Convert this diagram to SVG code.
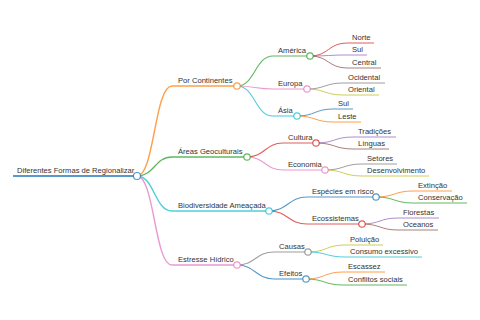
<svg xmlns="http://www.w3.org/2000/svg" width="480" height="320" viewBox="0 0 480 320">
<style>
text{font-family:"Liberation Sans",Arial,sans-serif;font-size:7.6px;fill:#333}
path,line,circle{fill:none}
.l0{stroke-width:2}
.l1{stroke-width:1.4}
.l2{stroke-width:1.1}
.l3{stroke-width:1}
circle{fill:#fff;stroke-width:1.2}
.blue{stroke:#1f77b4}
.orange{stroke:#ff7f0e}
.green{stroke:#2ca02c}
.red{stroke:#d62728}
.purple{stroke:#9467bd}
.brown{stroke:#8c564b}
.pink{stroke:#e377c2}
.gray{stroke:#7f7f7f}
.olive{stroke:#bcbd22}
.cyan{stroke:#17becf}
.sk{stroke-opacity:0.75}
</style>
<rect width="480" height="320" fill="#fff"/>
<g id="connectors" class="sk">
<path class="l1 orange" d="M137,176 C154.5,176 154.5,86 172,86"/>
<path class="l1 green" d="M137,176 C154.5,176 154.5,157 172,157"/>
<path class="l1 cyan" d="M137,176 C154.5,176 154.5,211 172,211"/>
<path class="l1 pink" d="M137,176 C154.5,176 154.5,265 172,265"/>
<path class="l2 green" d="M237,86 C255,86 255,56 273,56"/>
<path class="l2 pink" d="M237,86 C255,86 255,89 273,89"/>
<path class="l2 cyan" d="M237,86 C255,86 255,116 273,116"/>
<path class="l2 red" d="M247,157 C265,157 265,143 283,143"/>
<path class="l2 pink" d="M247,157 C265,157 265,170 283,170"/>
<path class="l2 blue" d="M269,211 C288,211 288,197 307,197"/>
<path class="l2 red" d="M269,211 C288,211 288,224 307,224"/>
<path class="l2 gray" d="M237,265 C255.5,265 255.5,252 274,252"/>
<path class="l2 blue" d="M237,265 C255.5,265 255.5,279 274,279"/>
<path class="l3 red" d="M310,56 C328.5,56 328.5,43 347,43"/>
<path class="l3 purple" d="M310,56 C328.5,56 328.5,55 347,55"/>
<path class="l3 brown" d="M310,56 C328.5,56 328.5,68 347,68"/>
<path class="l3 gray" d="M307,89 C325,89 325,83 343,83"/>
<path class="l3 olive" d="M307,89 C325,89 325,95 343,95"/>
<path class="l3 blue" d="M297,116 C315,116 315,109 333,109"/>
<path class="l3 orange" d="M297,116 C315,116 315,122 333,122"/>
<path class="l3 purple" d="M316,143 C334.5,143 334.5,137 353,137"/>
<path class="l3 brown" d="M316,143 C334.5,143 334.5,149 353,149"/>
<path class="l3 gray" d="M325,170 C343.5,170 343.5,164 362,164"/>
<path class="l3 olive" d="M325,170 C343.5,170 343.5,176 362,176"/>
<path class="l3 orange" d="M376,197 C394.5,197 394.5,191 413,191"/>
<path class="l3 green" d="M376,197 C394.5,197 394.5,203 413,203"/>
<path class="l3 purple" d="M362,224 C380,224 380,218 398,218"/>
<path class="l3 brown" d="M362,224 C380,224 380,230 398,230"/>
<path class="l3 olive" d="M308,252 C326.5,252 326.5,245 345,245"/>
<path class="l3 cyan" d="M308,252 C326.5,252 326.5,257 345,257"/>
<path class="l3 orange" d="M306,279 C324.5,279 324.5,272 343,272"/>
<path class="l3 green" d="M306,279 C324.5,279 324.5,285 343,285"/>
</g>
<g id="root" class="sk"><line class="l0 blue" x1="13" y1="176" x2="137" y2="176"/><circle class="blue" cx="137" cy="176" r="3.5"/><text x="17" y="173">Diferentes Formas de Regionalizar</text></g>
<g id="por-continentes" class="sk"><line class="l1 orange" x1="172" y1="86" x2="237" y2="86"/><circle class="orange" cx="237" cy="86" r="3.2"/><text x="178" y="83">Por Continentes</text></g>
<g id="areas-geoculturais" class="sk"><line class="l1 green" x1="172" y1="157" x2="247" y2="157"/><circle class="green" cx="247" cy="157" r="3.2"/><text x="178" y="154">Áreas Geoculturais</text></g>
<g id="biodiversidade" class="sk"><line class="l1 cyan" x1="172" y1="211" x2="269" y2="211"/><circle class="cyan" cx="269" cy="211" r="3.2"/><text x="178" y="208">Biodiversidade Ameaçada</text></g>
<g id="estresse-hidrico" class="sk"><line class="l1 pink" x1="172" y1="265" x2="237" y2="265"/><circle class="pink" cx="237" cy="265" r="3.2"/><text x="178" y="262">Estresse Hídrico</text></g>
<g id="america" class="sk"><line class="l2 green" x1="273" y1="56" x2="310" y2="56"/><circle class="green" cx="310" cy="56" r="3.2"/><text x="278" y="53">América</text></g>
<g id="europa" class="sk"><line class="l2 pink" x1="273" y1="89" x2="307" y2="89"/><circle class="pink" cx="307" cy="89" r="3.2"/><text x="278" y="86">Europa</text></g>
<g id="asia" class="sk"><line class="l2 cyan" x1="273" y1="116" x2="297" y2="116"/><circle class="cyan" cx="297" cy="116" r="3.2"/><text x="278" y="113">Ásia</text></g>
<g id="cultura" class="sk"><line class="l2 red" x1="283" y1="143" x2="316" y2="143"/><circle class="red" cx="316" cy="143" r="3.2"/><text x="288" y="140">Cultura</text></g>
<g id="economia" class="sk"><line class="l2 pink" x1="283" y1="170" x2="325" y2="170"/><circle class="pink" cx="325" cy="170" r="3.2"/><text x="288" y="167">Economia</text></g>
<g id="especies" class="sk"><line class="l2 blue" x1="307" y1="197" x2="376" y2="197"/><circle class="blue" cx="376" cy="197" r="3.2"/><text x="312" y="194">Espécies em risco</text></g>
<g id="ecossistemas" class="sk"><line class="l2 red" x1="307" y1="224" x2="362" y2="224"/><circle class="red" cx="362" cy="224" r="3.2"/><text x="312" y="221">Ecossistemas</text></g>
<g id="causas" class="sk"><line class="l2 gray" x1="274" y1="252" x2="308" y2="252"/><circle class="gray" cx="308" cy="252" r="3.2"/><text x="279" y="249">Causas</text></g>
<g id="efeitos" class="sk"><line class="l2 blue" x1="274" y1="279" x2="306" y2="279"/><circle class="blue" cx="306" cy="279" r="3.2"/><text x="279" y="276">Efeitos</text></g>
<g id="norte" class="sk"><line class="l3 red" x1="347" y1="43" x2="374" y2="43"/><text x="352" y="40">Norte</text></g>
<g id="sul-america" class="sk"><line class="l3 purple" x1="347" y1="55" x2="367" y2="55"/><text x="352" y="52">Sul</text></g>
<g id="central" class="sk"><line class="l3 brown" x1="347" y1="68" x2="381" y2="68"/><text x="352" y="65">Central</text></g>
<g id="ocidental" class="sk"><line class="l3 gray" x1="343" y1="83" x2="385" y2="83"/><text x="348" y="80">Ocidental</text></g>
<g id="oriental" class="sk"><line class="l3 olive" x1="343" y1="95" x2="379" y2="95"/><text x="348" y="92">Oriental</text></g>
<g id="sul-asia" class="sk"><line class="l3 blue" x1="333" y1="109" x2="353" y2="109"/><text x="338" y="106">Sul</text></g>
<g id="leste" class="sk"><line class="l3 orange" x1="333" y1="122" x2="361" y2="122"/><text x="338" y="119">Leste</text></g>
<g id="tradicoes" class="sk"><line class="l3 purple" x1="353" y1="137" x2="396" y2="137"/><text x="358" y="134">Tradições</text></g>
<g id="linguas" class="sk"><line class="l3 brown" x1="353" y1="149" x2="389" y2="149"/><text x="358" y="146">Línguas</text></g>
<g id="setores" class="sk"><line class="l3 gray" x1="362" y1="164" x2="397" y2="164"/><text x="367" y="161">Setores</text></g>
<g id="desenvolvimento" class="sk"><line class="l3 olive" x1="362" y1="176" x2="429" y2="176"/><text x="367" y="173">Desenvolvimento</text></g>
<g id="extincao" class="sk"><line class="l3 orange" x1="413" y1="191" x2="452" y2="191"/><text x="418" y="188">Extinção</text></g>
<g id="conservacao" class="sk"><line class="l3 green" x1="413" y1="203" x2="467" y2="203"/><text x="418" y="200">Conservação</text></g>
<g id="florestas" class="sk"><line class="l3 purple" x1="398" y1="218" x2="439" y2="218"/><text x="403" y="215">Florestas</text></g>
<g id="oceanos" class="sk"><line class="l3 brown" x1="398" y1="230" x2="438" y2="230"/><text x="403" y="227">Oceanos</text></g>
<g id="poluicao" class="sk"><line class="l3 olive" x1="345" y1="245" x2="383" y2="245"/><text x="350" y="242">Poluição</text></g>
<g id="consumo" class="sk"><line class="l3 cyan" x1="345" y1="257" x2="422" y2="257"/><text x="350" y="254">Consumo excessivo</text></g>
<g id="escassez" class="sk"><line class="l3 orange" x1="343" y1="272" x2="385" y2="272"/><text x="348" y="269">Escassez</text></g>
<g id="conflitos" class="sk"><line class="l3 green" x1="343" y1="285" x2="407" y2="285"/><text x="348" y="282">Conflitos sociais</text></g>
</svg>
